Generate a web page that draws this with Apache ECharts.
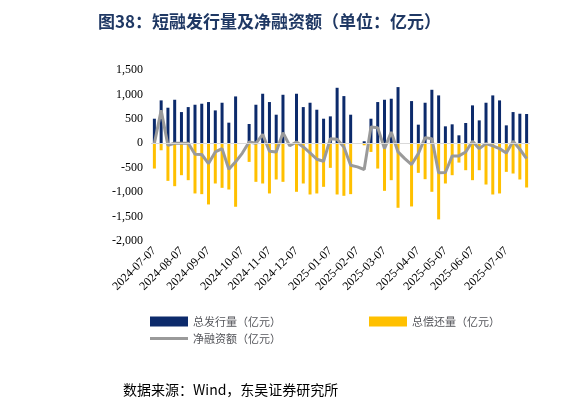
<!DOCTYPE html><html><head><meta charset="utf-8"><script src="https://cdn.jsdelivr.net/npm/echarts@6/dist/echarts.min.js"></script></head><body style="margin:0"><div id="c" style="width:583px;height:416px"></div><script>
var issuance=[503,878,728,891,639,741,789,810,844,673,830,422,959,null,395,789,1014,844,585,993,null,1014,741,830,687,503,551,1136,966,585,null,41,503,844,891,912,1150,null,864,381,830,1095,980,347,388,163,415,776,469,830,980,878,367,639,605,599];
var repayment=[-517,-143,-769,-878,-653,-755,-1027,-1041,-1252,-823,-912,-946,-1299,null,-381,-789,-823,-1027,-741,-789,null,-993,-823,-1048,-1027,-891,-503,-1048,-1075,-1041,null,-41,-177,-517,-973,-755,-1320,null,-1293,-605,-735,-993,-1558,-823,-653,-395,-551,-755,-551,-844,-1048,-1027,-585,-619,-741,-905];
var netFinancing=[0,673,-40,0,0,0,-224,-230,-415,-177,-109,-530,-380,-200,27,0,184,-163,-177,218,-50,27,-75,-197,-327,-367,95,82,-75,-449,-483,-537,333,320,-109,231,-177,-313,-435,-211,116,95,-605,-599,-258,-258,-177,41,-109,-7,-54,-109,-197,41,-122,-313];
var yTicks=[-2000,-1500,-1000,-500,0,500,1000,1500];
var cats=[],lab={};var d0=new Date(2024,6,7);var lastM=-1;
for(var i=0;i<issuance.length;i++){var d=new Date(d0.getTime()+i*7*864e5);var s=d.getFullYear()+'-'+('0'+(d.getMonth()+1)).slice(-2)+'-'+('0'+d.getDate()).slice(-2);cats.push(s);if(d.getMonth()!==lastM){lastM=d.getMonth();lab[i]=d.getFullYear()+'-'+('0'+(d.getMonth()+1)).slice(-2)+'-07';}}
var f='"Liberation Serif","Noto Serif CJK SC",serif';
var ch=echarts.init(document.getElementById('c'));
ch.setOption({animation:false,
title:[{text:'图38：短融发行量及净融资额（单位：亿元）',left:93,top:8,textStyle:{color:'#1f3864',fontSize:17,fontWeight:'bold',fontFamily:'"Noto Sans CJK SC",sans-serif'}},
{text:'数据来源：Wind，东吴证券研究所',left:118,top:378,textStyle:{color:'#000',fontSize:14,fontWeight:'normal',fontFamily:'"Noto Sans CJK SC",serif'}}],
legend:[{data:[{name:'总发行量（亿元）',icon:'rect'},{name:'总偿还量（亿元）',icon:'rect'}],left:145,top:311,itemGap:88,itemWidth:38,itemHeight:10,textStyle:{fontSize:11,fontFamily:'"Noto Sans CJK SC"'}},
{data:[{name:'净融资额（亿元）',icon:'path://M0,0h40v3h-40z'}],left:145,top:328,itemWidth:38,itemHeight:3,textStyle:{fontSize:11,fontFamily:'"Noto Sans CJK SC"'}}],
grid:{left:151,right:53,top:70,bottom:175},
xAxis:{type:'category',data:cats,axisTick:{show:false},axisLine:{show:false},
axisLabel:{interval:function(i){return lab[i]!==undefined;},formatter:function(v,i){return lab[i]||'';},rotate:45,fontSize:12,fontFamily:f,color:'#000',margin:8}},
yAxis:{type:'value',min:-2000,max:1500,interval:500,splitLine:{show:false},axisLine:{show:false},axisTick:{show:false},
axisLabel:{fontSize:12,fontFamily:f,color:'#000',formatter:function(v){return v.toLocaleString('en-US');}}},
series:[{name:'总发行量（亿元）',type:'bar',data:issuance,barWidth:3,barGap:'-100%',itemStyle:{color:'#0c2a6b'}},
{name:'总偿还量（亿元）',type:'bar',data:repayment,barWidth:3,itemStyle:{color:'#ffc000'}},
{name:'净融资额（亿元）',type:'line',data:netFinancing,symbol:'none',connectNulls:true,lineStyle:{color:'#9a9a9a',width:3},itemStyle:{color:'#9a9a9a'},
markLine:{silent:true,symbol:'none',label:{show:false},lineStyle:{color:'#d9d9d9',type:'solid',width:1},data:[{yAxis:0}]}}]});
</script></body></html>
